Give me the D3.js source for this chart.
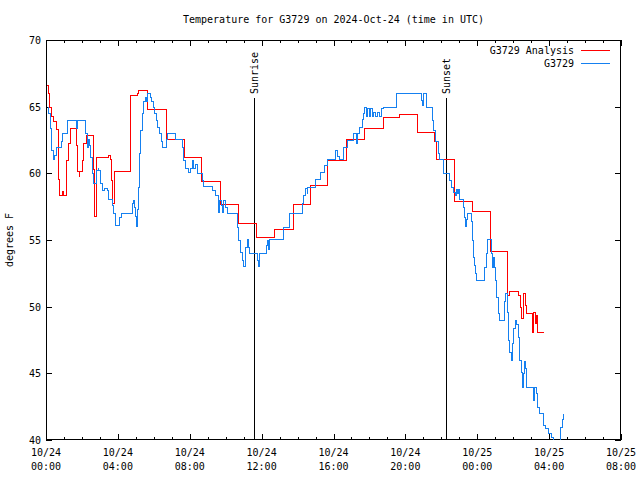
<!DOCTYPE html>
<html><head><meta charset="utf-8">
<script src="https://cdn.jsdelivr.net/npm/d3@7"></script>
<style>
html,body{margin:0;padding:0;background:#fff;}
text{font-family:"DejaVu Sans Mono","Liberation Mono",monospace;font-size:10px;fill:#000;}
</style></head>
<body><svg id="chart" width="640" height="480"></svg>
<script>
// Hours after 2024-10-24 00:00 UTC
const anaHours = [0.00,0.11,0.19,0.28,0.39,0.58,0.67,0.72,0.89,0.95,1.11,1.22,1.36,1.42,1.47,1.67,1.73,1.81,1.86,1.98,2.06,2.25,2.59,2.67,2.78,3.45,3.56,3.64,3.70,3.78,4.65,5.04,5.12,5.62,6.68,7.68,8.63,9.66,10.66,11.66,12.69,13.72,14.69,15.64,16.72,17.70,18.73,19.62,20.67,21.59,21.68,22.73,23.73,24.71,25.68,25.76,26.29,26.40,26.46,26.52,26.57,26.66,26.71,27.07,27.13,27.21,27.27,27.35,27.67];
const anaTemps = [66.6,66.0,65.0,64.3,63.9,63.3,59.6,58.4,58.7,58.4,61.0,62.3,63.4,63.5,63.4,62.1,60.2,59.8,60.2,61.0,62.3,62.9,60.3,56.8,61.2,61.4,61.1,59.5,57.8,60.2,65.9,66.0,66.25,64.8,62.55,61.2,59.4,57.7,56.3,55.2,55.8,57.7,59.1,61.0,62.55,63.4,64.2,64.45,63.1,62.4,61.05,57.9,57.15,54.2,50.9,51.2,50.9,50.0,49.15,50.5,51.0,50.1,49.5,48.1,49.6,48.75,49.4,48.1,48.1];

const obsHours = [0.03,0.11,0.22,0.28,0.37,0.46,0.56,0.82,0.91,1.15,1.61,1.67,1.74,2.17,2.26,2.34,2.39,2.45,2.54,2.63,2.78,2.87,2.92,3.00,3.10,3.20,3.39,3.47,3.66,3.71,3.84,4.08,4.16,4.77,4.82,4.90,4.97,5.01,5.06,5.14,5.19,5.23,5.33,5.41,5.51,5.57,5.60,5.76,5.83,5.94,6.03,6.12,6.19,6.29,6.38,6.44,6.68,6.75,7.18,7.55,7.64,7.74,7.92,8.01,8.11,8.20,8.29,8.39,8.66,8.75,9.22,9.40,9.59,9.64,9.73,9.81,9.86,9.96,10.06,10.61,10.70,10.80,10.89,10.98,11.07,11.17,11.24,11.31,11.76,11.82,11.87,12.24,12.31,12.37,12.41,13.17,13.54,14.23,14.32,14.41,14.50,14.55,14.97,15.25,15.47,15.64,16.03,16.08,16.19,16.28,16.51,16.73,17.07,17.25,17.32,17.43,17.57,17.66,17.71,17.79,17.88,17.96,18.03,18.13,18.22,18.31,18.44,18.55,18.63,18.74,19.48,20.81,20.87,20.91,20.96,21.15,21.46,21.55,21.65,21.83,21.89,22.08,22.11,22.44,22.52,22.67,22.76,22.81,22.89,22.94,23.00,23.22,23.28,23.33,23.37,23.44,23.63,23.69,23.75,23.82,23.88,23.93,24.39,24.46,24.52,24.75,24.80,24.85,24.93,24.99,25.04,25.14,25.21,25.49,25.56,25.64,25.73,25.78,25.86,25.92,26.01,26.10,26.18,26.25,26.32,26.42,26.47,26.53,26.60,26.66,26.71,27.08,27.15,27.27,27.34,27.45,27.64,27.77,27.95,28.09,28.20,28.51,28.60,28.69,28.79];
const obsTemps = [65.0,64.5,63.4,61.75,61.1,61.4,62.0,62.4,63.0,64.0,64.0,63.4,64.0,63.0,62.0,62.6,62.1,61.25,60.0,59.25,60.25,60.5,60.25,59.25,58.75,58.9,58.75,58.1,57.6,57.0,56.1,56.75,57.0,57.75,58.0,57.5,56.8,56.05,57.3,59.0,61.5,63.25,64.5,65.4,65.75,65.4,66.0,65.75,65.4,65.0,64.5,64.0,63.5,63.0,62.4,62.0,62.6,63.0,62.6,62.0,61.0,60.4,60.1,60.4,61.0,60.4,60.7,60.0,59.5,59.05,58.75,58.4,57.1,58.0,57.6,57.1,58.0,57.5,57.0,56.0,55.0,54.1,53.5,53.05,54.5,55.05,54.5,54.05,53.5,53.05,54.0,54.6,55.0,54.3,55.05,56.0,57.0,57.75,58.4,58.9,58.5,59.0,59.6,60.1,60.6,61.05,61.05,61.75,61.3,61.05,62.0,62.5,63.0,62.3,63.0,63.5,64.1,64.5,65.0,64.3,64.9,64.3,64.9,64.3,64.6,64.3,64.6,64.3,64.9,65.0,66.05,66.05,65.5,65.1,66.05,65.0,64.0,63.25,62.4,61.5,61.1,60.5,60.0,59.5,59.0,58.6,58.4,58.8,58.5,58.8,58.05,57.5,56.75,56.05,56.6,57.0,56.4,55.0,53.75,53.1,52.5,52.0,53.0,54.0,55.05,54.0,53.0,53.75,53.0,52.0,50.75,49.5,49.0,50.4,51.0,49.6,47.5,46.6,46.0,47.25,48.4,49.0,48.7,47.75,46.0,45.1,44.0,45.0,45.9,45.4,44.0,43.0,44.0,43.5,42.5,42.0,41.1,40.9,40.55,40.25,39.8,39.8,41.0,41.6,42.0];

const seriesNames = ["G3729 Analysis", "G3729"];
const seriesColors = ["#ff0000", "#1580f0"];
const eventNames = ["Sunrise", "Sunset"];
const eventHours = [11.575, 22.26];
const yTicks = [40, 45, 50, 55, 60, 65, 70];
const xTickHours = [0, 4, 8, 12, 16, 20, 24, 28, 32];
const titleText = "Temperature for G3729 on 2024-Oct-24 (time in UTC)";
const yLabel = "degrees F";

const t0 = Date.UTC(2024, 9, 24, 0, 0);
const toDate = h => new Date(t0 + h * 3600e3);

const svg = d3.select("#chart");
const L = 46, R = 621, T = 40, B = 440;
const x = d3.scaleUtc().domain([toDate(0), toDate(32)]).range([L, R]);
const y = d3.scaleLinear().domain([40, 70]).range([B, T]);

svg.append("defs").append("clipPath").attr("id", "clip")
  .append("rect").attr("x", L).attr("y", T).attr("width", R - L).attr("height", B - T);

// title
svg.append("text").attr("x", (L + R) / 2).attr("y", 23).attr("text-anchor", "middle").text(titleText);
// y label
svg.append("text").attr("transform", `translate(13,${(T + B) / 2}) rotate(-90)`)
  .attr("text-anchor", "middle").text(yLabel);

const g = svg.append("g").attr("shape-rendering", "crispEdges");
const fmtD = d3.utcFormat("%m/%d"), fmtT = d3.utcFormat("%H:%M");

// x ticks: major + minor (hourly), bottom and top
const hourTicks = d3.range(0, 33);
hourTicks.forEach(h => {
  const major = h % 4 === 0;
  const len = major ? 6 : 3;
  const px = Math.round(x(toDate(h))) + 0.5;
  g.append("line").attr("x1", px).attr("x2", px).attr("y1", B).attr("y2", B - len).attr("stroke", "#000");
  g.append("line").attr("x1", px).attr("x2", px).attr("y1", T).attr("y2", T + len).attr("stroke", "#000");
});
xTickHours.forEach(h => {
  const d = toDate(h), px = x(d);
  svg.append("text").attr("x", px).attr("y", 456).attr("text-anchor", "middle").text(fmtD(d).replace(/^0/, "").length ? fmtD(d) : fmtD(d));
  svg.append("text").attr("x", px).attr("y", 470).attr("text-anchor", "middle").text(fmtT(d));
});
// y ticks
yTicks.forEach(v => {
  const py = Math.round(y(v)) + 0.5;
  g.append("line").attr("x1", L).attr("x2", L + 6).attr("y1", py).attr("y2", py).attr("stroke", "#000");
  g.append("line").attr("x1", R).attr("x2", R - 6).attr("y1", py).attr("y2", py).attr("stroke", "#000");
  svg.append("text").attr("x", 41).attr("y", y(v) + 4).attr("text-anchor", "end").text(v);
});

// data lines
const plot = svg.append("g").attr("clip-path", "url(#clip)");
const line = d3.line().curve(d3.curveStepAfter).x(d => Math.round(x(toDate(d[0]))) + 0.5).y(d => Math.round(y(d[1])) + 0.5);
const ana = anaHours.map((h, i) => [h, anaTemps[i]]);
const obs = obsHours.map((h, i) => [h, obsTemps[i]]);
plot.append("path").datum(ana).attr("d", line).attr("fill", "none").attr("stroke", seriesColors[0]).attr("stroke-width", 1).attr("shape-rendering", "crispEdges");
plot.append("path").datum(obs).attr("d", line).attr("fill", "none").attr("stroke", seriesColors[1]).attr("stroke-width", 1).attr("shape-rendering", "crispEdges");

// sunrise / sunset
eventHours.forEach((h, i) => {
  const px = Math.round(x(toDate(h))) + 0.5;
  g.append("line").attr("x1", px).attr("x2", px).attr("y1", 98).attr("y2", B).attr("stroke", "#000");
  svg.append("text").attr("transform", `translate(${px + 3.5},94) rotate(-90)`).attr("text-anchor", "start").text(eventNames[i]);
});

// border
g.append("rect").attr("x", L + 0.5).attr("y", T + 0.5).attr("width", R - L - 1).attr("height", B - T - 1)
  .attr("fill", "none").attr("stroke", "#000");

// legend
seriesNames.forEach((n, i) => {
  const ly = 50 + i * 13;
  svg.append("text").attr("x", 574).attr("y", ly + 3.5).attr("text-anchor", "end").text(n);
  g.append("line").attr("x1", 581).attr("x2", 610).attr("y1", ly + 0.5).attr("y2", ly + 0.5).attr("stroke", seriesColors[i]);
});
</script></body></html>
